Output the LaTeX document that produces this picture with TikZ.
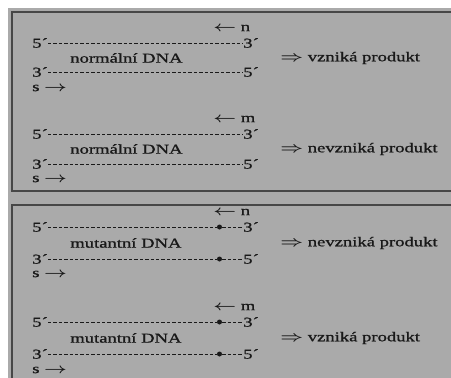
\documentclass[tikz,border=0pt]{standalone}
\usepackage{fontspec}
\setmainfont{Liberation Serif}
\newfontfamily\scanfont[FakeBold=0.9]{Liberation Serif}
\definecolor{bg}{RGB}{170,170,170}
\definecolor{ink}{RGB}{25,25,25}
\begin{document}
\begin{tikzpicture}[x=1pt,y=-1pt,
  txt/.style={font=\scanfont\fontsize{13.5}{15}\selectfont\boldmath, xscale=1.38, inner sep=0pt, text=ink, anchor=west},
  strand/.style={draw=ink, line width=1pt, dash pattern=on 3.3pt off 2.1pt},
  border/.style={draw=ink!80, line width=1.2pt},
  mutdot/.style={circle, fill=ink, inner sep=0pt, minimum size=5pt}]
\useasboundingbox (0,0) rectangle (451,378);
\fill[bg] (8,8) rectangle (451,378);
\draw[border] (451,12) -- (12,12) -- (12,191) -- (451,191);
\draw[border] (451,205) -- (12,205) -- (12,378);

% ---- panel 1, group A (primer n) ----
\node[txt] (aArr) at (213,28) {$\leftarrow$ n};
\node[txt] (aF1) at (32,43) {5´};
\node[txt] (aT1) at (243,43) {3´};
\draw[strand] (aF1.east) -- (aT1.west);
\node[txt] (aLab) at (70,58) {normální DNA};
\node[txt] (aRes) at (280,58) {$\Rightarrow$ vzniká produkt};
\node[txt] (aT2) at (32,72) {3´};
\node[txt] (aF2) at (243,72) {5´};
\draw[strand] (aT2.east) -- (aF2.west);
\node[txt] (aS) at (32,88) {s $\rightarrow$};

% ---- panel 1, group B (primer m) ----
\node[txt] (bArr) at (213,119) {$\leftarrow$ m};
\node[txt] (bF1) at (32,134) {5´};
\node[txt] (bT1) at (243,134) {3´};
\draw[strand] (bF1.east) -- (bT1.west);
\node[txt] (bLab) at (70,149) {normální DNA};
\node[txt] (bRes) at (280,149) {$\Rightarrow$ nevzniká produkt};
\node[txt] (bT2) at (32,164) {3´};
\node[txt] (bF2) at (243,164) {5´};
\draw[strand] (bT2.east) -- (bF2.west);
\node[txt] (bS) at (32,179) {s $\rightarrow$};

% ---- panel 2, group C (primer n) ----
\node[txt] (cArr) at (213,212) {$\leftarrow$ n};
\node[txt] (cF1) at (32,227) {5´};
\node[mutdot] (cD1) at (219.5,227) {};
\node[txt] (cT1) at (243,227) {3´};
\draw[strand] (cF1.east) -- (cD1.west);
\draw[strand] (cD1.east) -- (cT1.west);
\node[txt] (cLab) at (70,243) {mutantní DNA};
\node[txt] (cRes) at (280,243) {$\Rightarrow$ nevzniká produkt};
\node[txt] (cT2) at (32,259) {3´};
\node[mutdot] (cD2) at (219.5,259) {};
\node[txt] (cF2) at (243,259) {5´};
\draw[strand] (cT2.east) -- (cD2.west);
\draw[strand] (cD2.east) -- (cF2.west);
\node[txt] (cS) at (32,274) {s $\rightarrow$};

% ---- panel 2, group D (primer m) ----
\node[txt] (dArr) at (213,307) {$\leftarrow$ m};
\node[txt] (dF1) at (32,322) {5´};
\node[mutdot] (dD1) at (219.5,322) {};
\node[txt] (dT1) at (243,322) {3´};
\draw[strand] (dF1.east) -- (dD1.west);
\draw[strand] (dD1.east) -- (dT1.west);
\node[txt] (dLab) at (70,338) {mutantní DNA};
\node[txt] (dRes) at (280,338) {$\Rightarrow$ vzniká produkt};
\node[txt] (dT2) at (32,354) {3´};
\node[mutdot] (dD2) at (219.5,354) {};
\node[txt] (dF2) at (243,354) {5´};
\draw[strand] (dT2.east) -- (dD2.west);
\draw[strand] (dD2.east) -- (dF2.west);
\node[txt] (dS) at (32,370) {s $\rightarrow$};
\end{tikzpicture}
\end{document}
